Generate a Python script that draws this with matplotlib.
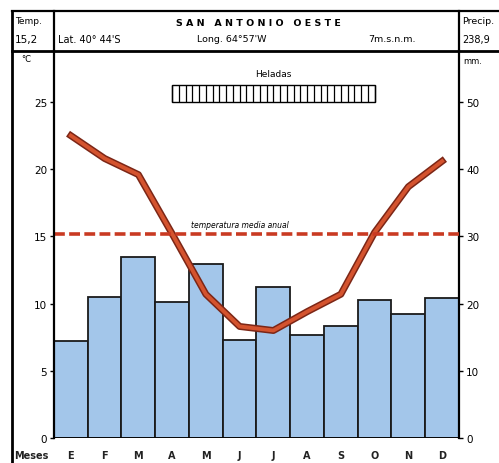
import matplotlib.pyplot as plt
import matplotlib.patheffects as pe
import numpy as np
from matplotlib.lines import Line2D
from matplotlib.patches import Rectangle

# climograma San Antonio Oeste
meses = ["E", "F", "M", "A", "M", "J", "J", "A", "S", "O", "N", "D"]
temp = [22.5, 20.8, 19.6, 15.2, 10.7, 8.3, 8.0, 9.4, 10.7, 15.3, 18.7, 20.6]
precip = [14.4, 21.0, 26.9, 20.2, 25.9, 14.6, 22.5, 15.3, 16.7, 20.5, 18.5, 20.8]
temp_media = 15.2
precip_total = "238,9"
heladas = (3, 9)  # abril a octubre

W, H = 499, 464
fig = plt.figure(figsize=(W / 100, H / 100), dpi=100)
fig.patch.set_facecolor("white")


def fx(px):
    return px / W


def fy(py):
    return 1 - py / H


def hline(y, x0, x1, lw=1.6):
    fig.add_artist(Line2D([fx(x0), fx(x1)], [fy(y), fy(y)], color="black", lw=lw))


def vline(x, y0, y1, lw=1.6):
    fig.add_artist(Line2D([fx(x), fx(x)], [fy(y0), fy(y1)], color="black", lw=lw))


# frame of the table
hline(12, 12, 499)
hline(52, 12, 499, lw=2.0)
vline(12, 12, 464, lw=2.0)
vline(54, 12, 52)
vline(459, 12, 52)

ax = fig.add_axes([fx(54), fy(439), fx(459) - fx(54), fy(52) - fy(439)])
ax2 = ax.twinx()
ax.set_zorder(ax2.get_zorder() + 1)
ax.patch.set_visible(False)

x = np.arange(len(meses))
ax2.bar(x, precip, width=1.0, color="#a3c6ea", edgecolor="#1a1a1a", linewidth=1.3)
ax2.set_ylim(0, 57.6)
ax.set_ylim(0, 28.8)
ax.set_xlim(-0.5, 11.5)
ax2.set_xlim(-0.5, 11.5)

ax.plot(x, temp, color="#d4532e", lw=2.8, solid_joinstyle="round",
        path_effects=[pe.Stroke(linewidth=5.0, foreground="#7c2616"), pe.Normal()])
ax.axhline(temp_media, color="#c93a22", lw=2.6, dashes=(3.0, 1.2))
ax.text(5.0, temp_media + 0.35, "temperatura media anual", fontsize=5.5,
        style="italic", ha="center", va="bottom")

# heladas
ax.add_patch(Rectangle((heladas[0], 25.0), heladas[1] - heladas[0], 1.3,
                       facecolor="white", edgecolor="black", lw=1.0))
ax.vlines(np.linspace(heladas[0], heladas[1], 31), 25.0, 26.3, color="black", lw=0.9)
ax.text((heladas[0] + heladas[1]) / 2, 26.8, "Heladas", fontsize=6.5, ha="center", va="bottom")

for a in (ax, ax2):
    for s in ("top", "bottom"):
        a.spines[s].set_visible(False)
ax.spines["left"].set_linewidth(1.6)
ax2.spines["right"].set_linewidth(1.6)
ax.spines["right"].set_visible(False)
ax2.spines["left"].set_visible(False)
ax.axhline(0, color="black", lw=1.8, zorder=5)

ax.set_yticks([0, 5, 10, 15, 20, 25])
ax2.set_yticks([0, 10, 20, 30, 40, 50])
ax.tick_params(axis="y", direction="out", length=3, width=1, labelsize=7.5, pad=2)
ax2.tick_params(axis="y", direction="out", length=3, width=1, labelsize=7.5, pad=2)
ax.set_xticks([])
ax2.set_xticks([])

for i, m in enumerate(meses):
    ax.text(i, -1.25, m, fontsize=7, ha="center", va="center", fontweight="bold",
            color="#222222")

# header texts
fig.text(fx(15), fy(22), "Temp.", fontsize=6.5, va="center")
fig.text(fx(15), fy(40), "15,2", fontsize=7.5, va="center")
fig.text(fx(58), fy(40), "Lat. 40° 44'S", fontsize=7, va="center")
fig.text(fx(258), fy(23), "S A N   A N T O N I O   O E S T E", fontsize=6.8,
         fontweight="bold", ha="center", va="center")
fig.text(fx(232), fy(40), "Long. 64°57'W", fontsize=6.8, ha="center", va="center")
fig.text(fx(392), fy(40), "7m.s.n.m.", fontsize=6.8, ha="center", va="center")
fig.text(fx(462), fy(22), "Precip.", fontsize=6.8, va="center")
fig.text(fx(462), fy(40), precip_total, fontsize=7, va="center")
fig.text(fx(26), fy(60), "°C", fontsize=6, ha="center", va="center")
fig.text(fx(463), fy(62), "mm.", fontsize=6, va="center")
fig.text(fx(14), fy(456), "Meses", fontsize=7, va="center", fontweight="bold",
         color="#222222")

fig.savefig("out.png", dpi=100)
